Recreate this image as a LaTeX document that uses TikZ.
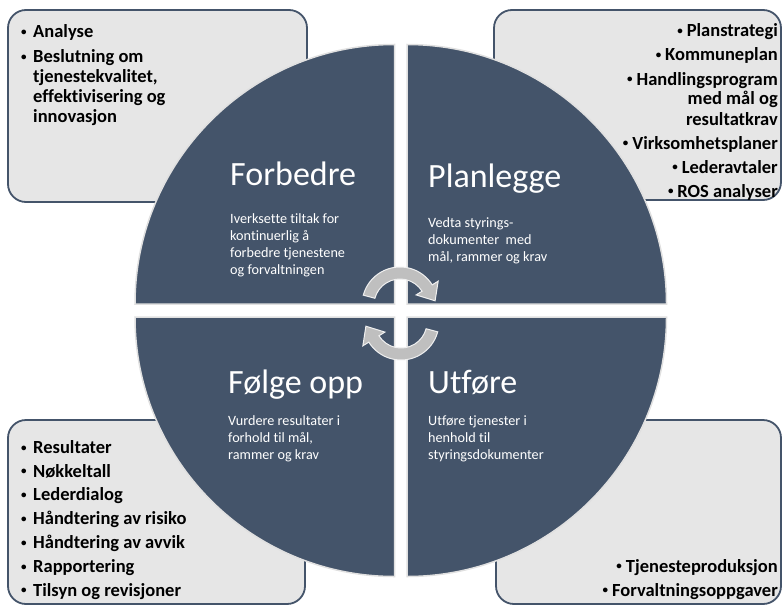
\documentclass[tikz,border=0pt]{standalone}
\usepackage{fontspec}
\setmainfont{Carlito}[Ligatures={NoCommon}]
\definecolor{navy}{HTML}{44546A}
\definecolor{boxfill}{HTML}{E6E6E6}
\definecolor{arrowgray}{HTML}{BFBFBF}
\newcommand{\smbul}{\raisebox{2.2pt}{\fontsize{11}{11}\selectfont •}}
\newcommand{\bul}{\makebox[12pt][l]{\smbul}}
\begin{document}
\begin{tikzpicture}[x=1pt,y=1pt,
  infobox/.style={draw=navy, line width=1.8pt, fill=boxfill, rounded corners=18pt},
  quad/.style={fill=navy, draw=black!12, line width=1.5pt},
  cyc/.style={fill=arrowgray, draw=black!6, line width=1pt},
  title/.style={text=white, font=\fontsize{34}{40}\selectfont, inner sep=0pt, anchor=base west},
  desc/.style={text=white, font=\fontsize{14.2}{17}\selectfont, inner sep=0pt, anchor=base west},
  itl/.style={font=\bfseries\fontsize{18.5}{20}\selectfont, inner sep=0pt, anchor=base west},
  itr/.style={font=\bfseries\fontsize{18.5}{20}\selectfont, inner sep=0pt, anchor=base east},
]
\useasboundingbox (0,0) rectangle (783,-607);
% boxes
\draw[infobox] (8,-10) rectangle (307,-202);
\draw[infobox] (494,-10) rectangle (781,-200);
\draw[infobox] (8,-420) rectangle (305,-604);
\draw[infobox] (496,-420) rectangle (781,-604);
% quadrants
\draw[quad] (394.5,-304) -- ++(-259.5,0) arc[start angle=180,end angle=90,radius=259.5] -- cycle;
\draw[quad] (407,-304) -- ++(0,259.5) arc[start angle=90,end angle=0,radius=259.5] -- cycle;
\draw[quad] (394.5,-317) -- ++(-259.5,0) arc[start angle=180,end angle=270,radius=259.5] -- cycle;
\draw[quad] (407,-317) -- ++(0,-259.5) arc[start angle=270,end angle=360,radius=259.5] -- cycle;
% cycle arrows
\begin{scope}[shift={(400,-305)}]
\draw[cyc] (165:38) arc[start angle=165,end angle=32,radius=38] -- (32:45) -- (35.1,4.2) -- (32:19) -- (32:26) arc[start angle=32,end angle=165,radius=26] -- cycle;
\end{scope}
\begin{scope}[shift={(401,-322)},rotate=180]
\draw[cyc] (165:38) arc[start angle=165,end angle=32,radius=38] -- (32:45) -- (35.1,4.2) -- (32:19) -- (32:26) arc[start angle=32,end angle=165,radius=26] -- cycle;
\end{scope}
% titles
\node[title] (forb) at (230,-185) {Forbedre};
\node[title] (plan) at (428,-187) {Planlegge};
\node[title] (folg) at (228,-393) {Følge opp};
\node[title] (utf) at (428,-393) {Utføre};
% descriptions
\node[desc] (fd1) at (230,-223) {Iverksette tiltak for};
\node[desc] (fd2) at (230,-240) {kontinuerlig å};
\node[desc] (fd3) at (230,-257) {forbedre tjenestene};
\node[desc] (fd4) at (230,-274) {og forvaltningen};
\node[desc] (pd1) at (428,-227) {Vedta styrings-};
\node[desc] (pd2) at (428,-244) {dokumenter\ \ med};
\node[desc] (pd3) at (428,-261) {mål, rammer og krav};
\node[desc] (od1) at (228,-425) {Vurdere resultater i};
\node[desc] (od2) at (228,-442) {forhold til mål,};
\node[desc] (od3) at (228,-459) {rammer og krav};
\node[desc] (ud1) at (428,-425) {Utføre tjenester i};
\node[desc] (ud2) at (428,-442) {henhold til};
\node[desc] (ud3) at (428,-459) {styringsdokumenter};
% top-left list
\node[itl] (tl1) at (21,-38) {\bul Analyse};
\node[itl] (tl2) at (21,-62.5) {\bul Beslutning om};
\node[itl] (tl3) at (21,-82.5) {\hspace{12pt}tjenestekvalitet,};
\node[itl] (tl4) at (21,-102.5) {\hspace{12pt}effektivisering og};
\node[itl] (tl5) at (21,-122.5) {\hspace{12pt}innovasjon};
% top-right list
\node[itr] (tr1) at (778,-37) {\smbul\hspace{4pt}Planstrategi};
\node[itr] (tr2) at (778,-61) {\smbul\hspace{4pt}Kommuneplan};
\node[itr] (tr3) at (778,-85) {\smbul\hspace{4pt}Handlingsprogram};
\node[itr] (tr4) at (778,-105) {med mål og};
\node[itr] (tr5) at (778,-125) {resultatkrav};
\node[itr] (tr6) at (778,-149) {\smbul\hspace{4pt}Virksomhetsplaner};
\node[itr] (tr7) at (778,-173) {\smbul\hspace{4pt}Lederavtaler};
\node[itr] (tr8) at (778,-197) {\smbul\hspace{4pt}ROS analyser};
% bottom-left list
\node[itl] (bl1) at (21,-453.2) {\bul Resultater};
\node[itl] (bl2) at (21,-477) {\bul Nøkkeltall};
\node[itl] (bl3) at (21,-500.8) {\bul Lederdialog};
\node[itl] (bl4) at (21,-524.6) {\bul Håndtering av risiko};
\node[itl] (bl5) at (21,-548.4) {\bul Håndtering av avvik};
\node[itl] (bl6) at (21,-572.2) {\bul Rapportering};
\node[itl] (bl7) at (21,-596) {\bul Tilsyn og revisjoner};
% bottom-right list
\node[itr] (br1) at (778,-572) {\smbul\hspace{4pt}Tjenesteproduksjon};
\node[itr] (br2) at (778,-596) {\smbul\hspace{4pt}Forvaltningsoppgaver};
\end{tikzpicture}
\end{document}
